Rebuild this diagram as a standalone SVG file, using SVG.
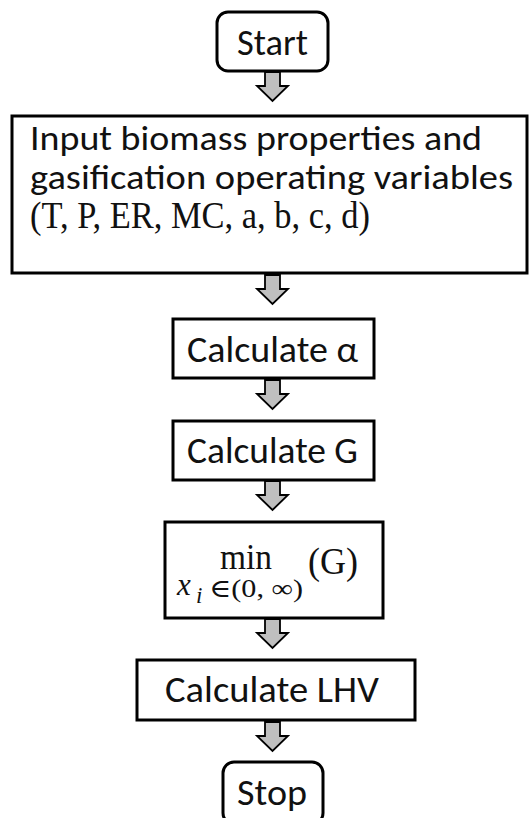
<svg xmlns="http://www.w3.org/2000/svg" width="531" height="818" viewBox="0 0 531 818">
  <style>
    .box { fill: #ffffff; stroke: #000000; stroke-width: 3; }
    .lbl { font-family: Carlito, Lato, "Open Sans", sans-serif; font-size: 36px; fill: #111111; }
    .lbl.small { font-size: 34px; }
    .math { font-family: "Liberation Serif", "DejaVu Serif", serif; fill: #111111; }
    .arrow { fill: #bfbfbf; stroke: #000000; stroke-width: 1.8; stroke-linejoin: miter; }
  </style>
  <defs>
    <!-- block arrow, origin at top centre, 29 px tall -->
    <path id="blockArrow" d="M -7.5 0 L 7.5 0 L 7.5 14 L 15.5 14 L 0 29 L -15.5 14 L -7.5 14 Z"/>
  </defs>

  <rect width="531" height="818" fill="#ffffff"/>

  <g id="connectors">
    <use href="#blockArrow" class="arrow" transform="translate(272.5,72)"/>
    <use href="#blockArrow" class="arrow" transform="translate(272.5,275)"/>
    <use href="#blockArrow" class="arrow" transform="translate(272.5,380)"/>
    <use href="#blockArrow" class="arrow" transform="translate(272.5,481)"/>
    <use href="#blockArrow" class="arrow" transform="translate(272.5,619)"/>
    <use href="#blockArrow" class="arrow" transform="translate(272.5,722)"/>
  </g>

  <g id="start">
    <rect class="box" x="217" y="12" width="111" height="59" rx="11"/>
    <text class="lbl" x="237" y="55" textLength="71" lengthAdjust="spacingAndGlyphs">Start</text>
  </g>

  <g id="input">
    <rect class="box" x="12" y="116" width="515" height="157"/>
    <text class="lbl small" x="30" y="150" textLength="452" lengthAdjust="spacingAndGlyphs">Input biomass properties and</text>
    <text class="lbl small" x="30" y="189" textLength="483" lengthAdjust="spacingAndGlyphs">gasification operating variables</text>
    <text class="math" x="30" y="228" font-size="37" textLength="340" lengthAdjust="spacingAndGlyphs">(T, P, ER, MC, a, b, c, d)</text>
  </g>

  <g id="calc-alpha">
    <rect class="box" x="173" y="319" width="201" height="59"/>
    <text class="lbl" x="187" y="362" textLength="171" lengthAdjust="spacingAndGlyphs">Calculate α</text>
  </g>

  <g id="calc-g">
    <rect class="box" x="173" y="421" width="201" height="59"/>
    <text class="lbl" x="187" y="463" textLength="171" lengthAdjust="spacingAndGlyphs">Calculate G</text>
  </g>

  <g id="minimise">
    <rect class="box" x="165" y="522" width="218" height="96"/>
    <text class="math" x="220" y="569" font-size="36" textLength="52" lengthAdjust="spacingAndGlyphs">min</text>
    <text class="math" x="177" y="595" font-size="31" font-style="italic">x</text>
    <text class="math" x="196" y="603" font-size="23" font-style="italic">i</text>
    <text class="math" x="209" y="597" font-size="25" textLength="94" lengthAdjust="spacingAndGlyphs">∈(0, ∞)</text>
    <text class="math" x="308" y="574" font-size="38" textLength="50" lengthAdjust="spacingAndGlyphs">(G)</text>
  </g>

  <g id="calc-lhv">
    <rect class="box" x="137" y="660" width="278" height="60"/>
    <text class="lbl" x="165" y="702" textLength="214" lengthAdjust="spacingAndGlyphs">Calculate LHV</text>
  </g>

  <g id="stop">
    <rect class="box" x="223" y="762" width="100" height="62" rx="11"/>
    <text class="lbl" x="237" y="805" textLength="70" lengthAdjust="spacingAndGlyphs">Stop</text>
  </g>
</svg>
